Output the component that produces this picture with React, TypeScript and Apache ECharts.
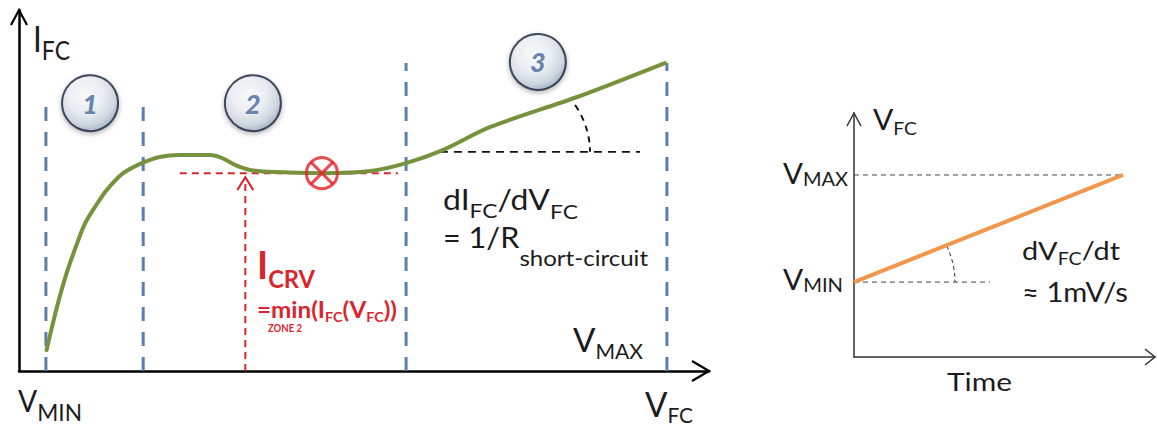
import React, { useEffect, useRef } from "react";
import * as echarts from "echarts";

// ---------- Left chart: I_FC versus V_FC (arbitrary units 0..100) ----------
const ivVoltage = [4.0, 5.5, 6.9, 8.6, 9.6, 11.0, 12.7, 15.1, 17.8, 20.4, 23.3, 27.7, 29.4, 31.3, 33.5, 37.1, 43.9, 50.9, 56.1, 61.4, 68.3, 80.9, 93.6];
const ivCurrent = [5.8, 17.7, 27.1, 36.3, 41.0, 45.4, 50.1, 54.8, 57.6, 59.3, 59.8, 59.8, 59.0, 57.1, 55.7, 55.1, 54.8, 55.4, 57.6, 61.2, 67.6, 75.9, 85.3];
const zoneBoundaryV = [3.9, 18.0, 56.1, 93.9];
const zoneBoundaryTop = [73.1, 73.1, 85.3, 85.3];
const zoneNumbers = ["1", "2", "3"];
const zoneBadgeV = [10.3, 33.9, 75.2];
const zoneBadgeI = [74.2, 74.2, 85.6];
const icrvLevel = 54.8;
const icrvSpanV = [23.3, 54.9];
const icrvMarkerV = 43.9;
const icrvArrowV = 32.8;
const icrvArrowTop = 53.7;
const slopeRefLevel = 60.7;
const slopeRefSpanV = [61.0, 90.0];

// ---------- Right chart: V_FC versus time ----------
const rampTime = [0, 89.4];
const rampVoltage = [30.7, 74.6];
const vMinGuideEnd = 45.2;

const FONT = "Lato, 'Open Sans', 'DejaVu Sans', sans-serif";
const K = 0.39;
const BLUE = "#5a7fad";
const GREEN = "#76923c";
const RED = "#d8262e";
const ORANGE = "#f1964b";
const INK = "#1c1c1c";

let measureCtx: CanvasRenderingContext2D | null = null;
function measure(t: string, s: number, w: string) {
  if (!measureCtx) measureCtx = document.createElement("canvas").getContext("2d");
  measureCtx!.font = `${w} ${s}px ${FONT}`;
  return measureCtx!.measureText(t).width;
}

type Piece = { t: string; s: number; dy?: number; w?: string };
function textBlock(x: number, base: number, pieces: Piece[], color: string, targetW?: number): any {
  const widths = pieces.map((p) => measure(p.t, p.s, p.w || "normal"));
  const total = widths.reduce((a, b) => a + b, 0);
  const sx = targetW ? targetW / total : 1;
  let cx = 0;
  const children = pieces.map((p, i) => {
    const el = {
      type: "text",
      x: cx,
      y: (p.dy || 0) - K * p.s,
      style: {
        text: p.t,
        fontSize: p.s,
        fontWeight: p.w || "normal",
        fontFamily: FONT,
        fill: color,
        verticalAlign: "middle",
        align: "left",
      },
    };
    cx += widths[i];
    return el;
  });
  return { type: "group", x, y: base, scaleX: sx, silent: true, children };
}

const L = { xAxisIndex: 0, yAxisIndex: 0 };
const R = { xAxisIndex: 1, yAxisIndex: 1 };

function lineSeries(axes: any, data: number[][], color: string, width: number, dash: any, z = 3): any {
  return {
    type: "line",
    ...axes,
    data,
    symbol: "none",
    silent: true,
    z,
    lineStyle: { color, width, type: dash },
  };
}

function axis(gridIndex: number, color: string, width: number): any {
  return {
    type: "value",
    gridIndex,
    min: 0,
    max: 100,
    axisLine: { show: true, onZero: false, lineStyle: { color, width } },
    axisTick: { show: false },
    axisLabel: { show: false },
    splitLine: { show: false },
  };
}

function buildOption(): any {
  const series: any[] = [];
  zoneBoundaryV.forEach((v, i) => {
    series.push(lineSeries(L, [[v, 0], [v, zoneBoundaryTop[i]]], BLUE, 3, [14, 11], 2));
  });
  series.push(lineSeries(L, [[icrvSpanV[0], icrvLevel], [icrvSpanV[1], icrvLevel]], RED, 2, [7, 5], 3));
  series.push(lineSeries(L, [[icrvArrowV, 0], [icrvArrowV, icrvArrowTop]], RED, 2, [7, 5], 3));
  series.push(lineSeries(L, [[slopeRefSpanV[0], slopeRefLevel], [slopeRefSpanV[1], slopeRefLevel]], "#111", 1.6, [8, 6], 3));
  series.push({
    type: "line",
    ...L,
    data: ivVoltage.map((v, i) => [v, ivCurrent[i]]),
    smooth: 0.3,
    symbol: "none",
    silent: true,
    z: 5,
    lineStyle: { color: GREEN, width: 4, cap: "round" },
  });
  series.push({
    type: "scatter",
    ...L,
    z: 6,
    silent: true,
    symbol: "circle",
    symbolSize: 31,
    data: [[icrvMarkerV, icrvLevel]],
    itemStyle: { color: "rgba(0,0,0,0)", borderColor: "#e31f26", borderWidth: 3 },
  });
  series.push({
    type: "scatter",
    ...L,
    z: 6,
    silent: true,
    symbol: "path://M0,0L10,10M10,0L0,10",
    symbolSize: 22,
    data: [[icrvMarkerV, icrvLevel]],
    itemStyle: { color: "rgba(0,0,0,0)", borderColor: "#e31f26", borderWidth: 3 },
  });
  series.push({
    type: "scatter",
    ...L,
    z: 7,
    silent: true,
    symbol: "circle",
    symbolSize: 56,
    data: zoneNumbers.map((n, i) => ({ name: n, value: [zoneBadgeV[i], zoneBadgeI[i]] })),
    itemStyle: {
      color: {
        type: "radial",
        x: 0.42,
        y: 0.36,
        r: 0.62,
        colorStops: [
          { offset: 0, color: "#ffffff" },
          { offset: 0.5, color: "#eef2f7" },
          { offset: 0.85, color: "#cdd6e3" },
          { offset: 1, color: "#a9b8cc" },
        ],
      },
      borderColor: "#1a263b",
      borderWidth: 2,
      shadowBlur: 5,
      shadowOffsetY: 2,
      shadowColor: "rgba(0,0,0,0.35)",
    },
    label: {
      show: true,
      position: "inside",
      formatter: "{b}",
      fontFamily: FONT,
      fontSize: 27,
      fontWeight: "900",
      fontStyle: "italic",
      color: "#44679a",
      textBorderColor: "#f4f7fb",
      textBorderWidth: 1,
    },
  });

  // right chart
  series.push(lineSeries(R, [[0, rampVoltage[1]], [rampTime[1], rampVoltage[1]]], "#444", 1, [5, 4], 2));
  series.push(lineSeries(R, [[0, rampVoltage[0]], [vMinGuideEnd, rampVoltage[0]]], "#444", 1, [5, 4], 2));
  series.push({
    type: "line",
    ...R,
    data: rampTime.map((t, i) => [t, rampVoltage[i]]),
    symbol: "none",
    silent: true,
    z: 5,
    lineStyle: { color: ORANGE, width: 4 },
  });

  return {
    animation: false,
    backgroundColor: "#ffffff",
    grid: [
      { left: 19, top: 10, width: 690, height: 361 },
      { left: 854, top: 113, width: 301, height: 244 },
    ],
    xAxis: [axis(0, "#000", 2.5), axis(1, "#333", 1.5)],
    yAxis: [axis(0, "#000", 2.5), axis(1, "#333", 1.5)],
    series,
  };
}

function buildGraphics(chart: any): any[] {
  const pL = (x: number, y: number) => chart.convertToPixel({ xAxisIndex: 0, yAxisIndex: 0 }, [x, y]);
  const pR = (x: number, y: number) => chart.convertToPixel({ xAxisIndex: 1, yAxisIndex: 1 }, [x, y]);
  const g: any[] = [];
  const chevron = (pts: number[][], color: string, w: number) =>
    g.push({ type: "polyline", silent: true, z: 10, shape: { points: pts }, style: { stroke: color, lineWidth: w, fill: null } });

  const ly = pL(0, 100);
  chevron([[ly[0] - 8, ly[1] + 15], [ly[0], ly[1]], [ly[0] + 8, ly[1] + 15]], "#000", 2.2);
  const lx = pL(100, 0);
  chevron([[lx[0] - 17, lx[1] - 10], [lx[0], lx[1]], [lx[0] - 17, lx[1] + 10]], "#000", 2.2);
  const ry = pR(0, 100);
  chevron([[ry[0] - 7, ry[1] + 13], [ry[0], ry[1]], [ry[0] + 7, ry[1] + 13]], "#333", 1.5);
  const rx = pR(100, 0);
  chevron([[rx[0] - 10, rx[1] - 8], [rx[0], rx[1]], [rx[0] - 10, rx[1] + 8]], "#333", 1.5);

  const ra = pL(icrvArrowV, icrvArrowTop);
  chevron([[ra[0] - 8, ra[1] + 13], [ra[0], ra[1]], [ra[0] + 8, ra[1] + 13]], RED, 2);

  const c1 = pL(slopeRefSpanV[0], slopeRefLevel);
  g.push({
    type: "arc",
    silent: true,
    x: c1[0],
    y: c1[1],
    scaleX: 1.39,
    shape: { cx: 0, cy: 0, r: 108, startAngle: -0.45, endAngle: 0, clockwise: true },
    style: { stroke: "#111", lineWidth: 1.4, lineDash: [6, 5], fill: null },
  });
  const c2 = pR(rampTime[0], rampVoltage[0]);
  g.push({
    type: "arc",
    silent: true,
    x: c2[0],
    y: c2[1],
    scaleX: 1.11,
    shape: { cx: 0, cy: 0, r: 91, startAngle: -0.41, endAngle: 0, clockwise: true },
    style: { stroke: "#444", lineWidth: 1, lineDash: [4, 3], fill: null },
  });

  // texts
  g.push(textBlock(33, 52, [{ t: "I", s: 37 }, { t: "FC", s: 27, dy: 8 }], INK, 37));
  g.push(textBlock(257, 279, [{ t: "I", s: 38, w: "bold" }, { t: "CRV", s: 24, w: "bold", dy: 9 }], RED, 58));
  g.push(
    textBlock(
      257,
      318,
      [
        { t: "=min(I", s: 22, w: "bold" },
        { t: "FC", s: 13, w: "bold", dy: 4 },
        { t: "(V", s: 22, w: "bold" },
        { t: "FC", s: 13, w: "bold", dy: 4 },
        { t: "))", s: 22, w: "bold" },
      ],
      RED,
      140
    )
  );
  g.push(textBlock(268, 332, [{ t: "ZONE 2", s: 12, w: "bold" }], RED, 34));
  g.push(
    textBlock(
      443,
      210,
      [
        { t: "dI", s: 28 },
        { t: "FC", s: 20, dy: 8 },
        { t: "/dV", s: 28 },
        { t: "FC", s: 20, dy: 9 },
      ],
      INK,
      135
    )
  );
  g.push(textBlock(443, 248, [{ t: "= 1/R", s: 28 }, { t: "short-circuit", s: 22, dy: 18 }], INK, 205));
  g.push(textBlock(573, 352, [{ t: "V", s: 33 }, { t: "MAX", s: 21, dy: 7 }], INK, 70));
  g.push(textBlock(18, 412, [{ t: "V", s: 30 }, { t: "MIN", s: 24, dy: 9 }], INK, 64));
  g.push(textBlock(645, 417, [{ t: "V", s: 35 }, { t: "FC", s: 22, dy: 6 }], INK, 48));

  g.push(textBlock(873, 130, [{ t: "V", s: 28 }, { t: "FC", s: 18, dy: 5 }], INK, 44));
  g.push(textBlock(783, 184, [{ t: "V", s: 28 }, { t: "MAX", s: 19, dy: 2 }], INK, 65));
  g.push(textBlock(783, 290, [{ t: "V", s: 28 }, { t: "MIN", s: 19, dy: 2 }], INK, 60));
  g.push(textBlock(1022, 260, [{ t: "dV", s: 25 }, { t: "FC", s: 17, dy: 5 }, { t: "/dt", s: 25 }], INK, 98));
  g.push(textBlock(1022, 302, [{ t: "\u2248 1mV/s", s: 26 }], INK, 106));
  g.push(textBlock(947, 391, [{ t: "Time", s: 25 }], INK, 65));
  return g;
}

export default function App() {
  const ref = useRef<HTMLDivElement>(null);
  useEffect(() => {
    const chart = echarts.init(ref.current!, null, { renderer: "svg" });
    chart.setOption(buildOption());
    chart.setOption({ graphic: buildGraphics(chart) });
    return () => chart.dispose();
  }, []);
  return (
    <div
      ref={ref}
      style={{ position: "fixed", left: 0, top: 0, width: 1157, height: 432, background: "#fff" }}
    />
  );
}
